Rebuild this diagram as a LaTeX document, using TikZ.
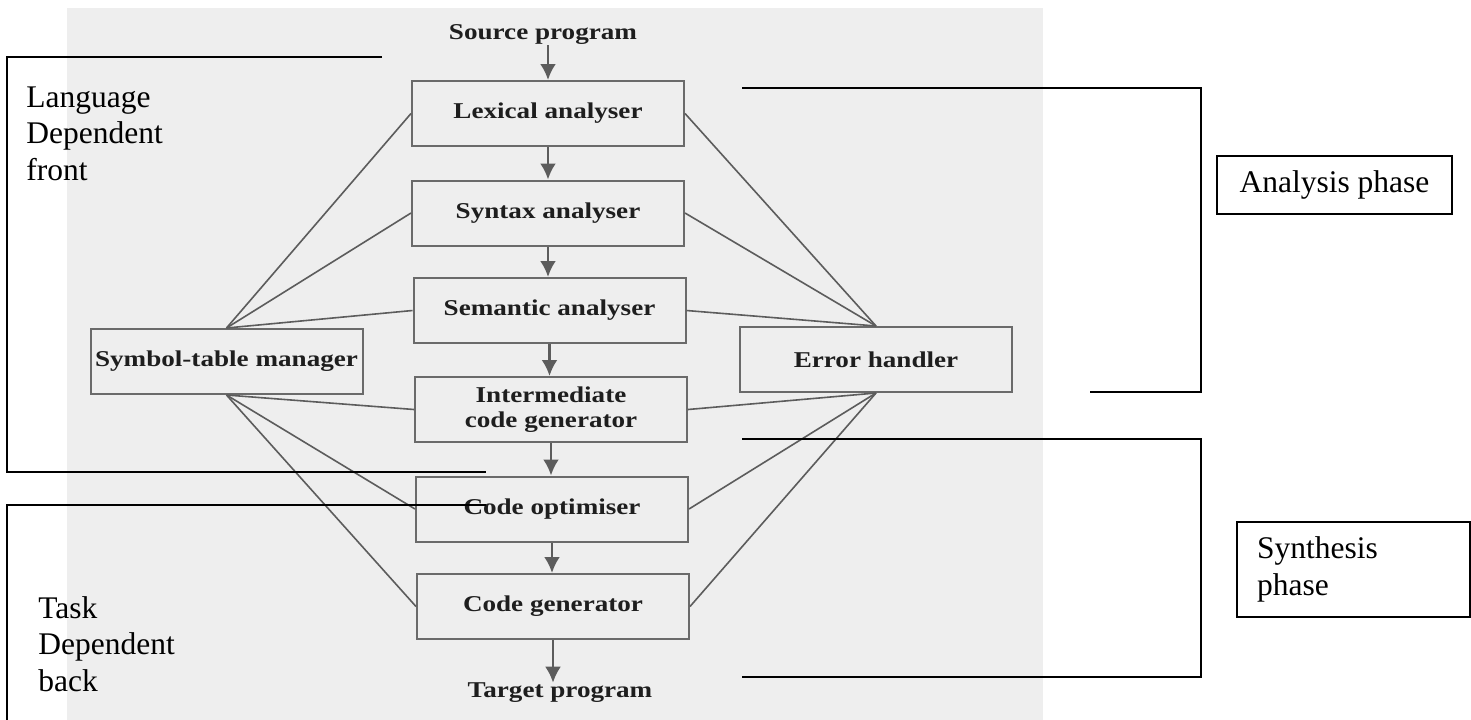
\documentclass[tikz,border=0pt]{standalone}
\usepackage{fontspec}
\setmainfont{Liberation Serif}
\newfontfamily\diagfont[FakeStretch=1.2]{Liberation Serif}
\usepackage{xcolor}
\usetikzlibrary{
arrows.meta,
backgrounds,
positioning
}
\definecolor{bggray}{HTML}{EEEEEE}
\definecolor{boxgray}{HTML}{6A6A6A}
\definecolor{linegray}{HTML}{5C5C5C}
\definecolor{textgray}{HTML}{1E1E1E}

\begin{document}
\begin{tikzpicture}
[x=0.5pt, y=-0.5pt,
block_normal/.style ={ rectangle, draw=boxgray, line width=1pt, fill=bggray, text centered, align=center, minimum width=136pt, minimum height=32.5pt, inner sep=0pt, text=textgray, font=\diagfont\bfseries\fontsize{11.3}{12.5}\selectfont},
block_exp/.style ={ rectangle, draw=none, fill=none, inner sep=0pt, text=textgray, font=\diagfont\bfseries\fontsize{11.3}{12.5}\selectfont},
block_phase/.style ={ rectangle, draw=black, line width=0.8pt, fill=white, inner sep=0pt, font=\fontsize{15.75}{18.25}\selectfont},
block_label/.style ={ rectangle, draw=none, inner sep=0pt, align=left, anchor=north west, font=\fontsize{15.75}{18.25}\selectfont},
line_inner/.style ={draw=linegray, line width=1.4pt, -{Latex[length=8pt,width=8pt]}},
line_outer/.style ={draw=linegray, line width=0.8pt},
line_phase/.style ={draw=black, line width=1pt}
]
\useasboundingbox (0,0) rectangle (1471,719);

%%%Phasen%%%
\node [block_exp] (src) at (543,35) {Source program};
\node [block_normal] (lex) at (548,113.5) {Lexical analyser};
\node [block_normal] (syn) at (548,213) {Syntax analyser};
\node [block_normal] (sem) at (549.5,310.5) {Semantic analyser};
\node [block_normal] (icg) at (551,409.5) {Intermediate\\code generator};
\node [block_normal] (opt) at (552,509) {Code optimiser};
\node [block_normal] (gen) at (553,606.5) {Code generator};
\node [block_exp] (tgt) at (560,693) {Target program};
\node [block_normal] (sym) at (226.5,361.5) {Symbol-table manager};
\node [block_normal] (err) at (876,359.5) {Error handler};

%%%Pfeile%%%
\draw[line_inner] (lex.north |- src.south) -- (lex.north);
\draw[line_inner] (lex.south) -- (lex.south |- syn.north);
\draw[line_inner] (syn.south) -- (syn.south |- sem.north);
\draw[line_inner] (sem.south) -- (sem.south |- icg.north);
\draw[line_inner] (icg.south) -- (icg.south |- opt.north);
\draw[line_inner] (opt.south) -- (opt.south |- gen.north);
\draw[line_inner] (gen.south) -- (gen.south |- tgt.north);

%%%Verbindungen%%%
\draw[line_outer] (sym.north) -- (lex.west);
\draw[line_outer] (sym.north) -- (syn.west);
\draw[line_outer] (sym.north) -- (sem.west);
\draw[line_outer] (sym.south) -- (icg.west);
\draw[line_outer] (sym.south) -- (opt.west);
\draw[line_outer] (sym.south) -- (gen.west);
\draw[line_outer] (err.north) -- (lex.east);
\draw[line_outer] (err.north) -- (syn.east);
\draw[line_outer] (err.north) -- (sem.east);
\draw[line_outer] (err.south) -- (icg.east);
\draw[line_outer] (err.south) -- (opt.east);
\draw[line_outer] (err.south) -- (gen.east);

%%%Klammern%%%
\draw[line_phase] (382,57) -- (7,57) -- (7,472) -- (486,472);
\draw[line_phase] (486,505) -- (7,505) -- (7,724);
\draw[line_phase] (742,88) -- (1201,88) -- (1201,392) -- (1090,392);
\draw[line_phase] (742,439) -- (1201,439) -- (1201,677) -- (742,677);

\node [block_label] (front) at (26,86) {Language\\Dependent\\front};
\node [block_label] (back) at (38,596) {Task\\Dependent\\back};
\node [block_phase, minimum width=117.5pt, minimum height=29pt] (analysis) at (1334.5,185) {Analysis phase};
\node [block_phase, minimum height=47.5pt, text width=96.5pt, inner xsep=10pt, align=left] (synthesis) at (1353.5,569.5) {Synthesis\\phase};

%%%Background%%%
\begin{scope}[on background layer]
\fill[white] (0,0) rectangle (1471,719);
\fill[bggray] (67,8) rectangle (1043,724);
\end{scope}
%%%Background%%%

\end{tikzpicture}
\end{document}
